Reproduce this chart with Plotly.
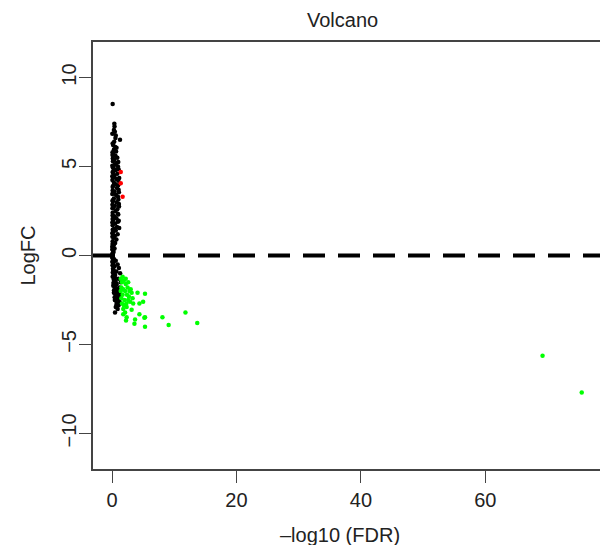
import plotly.graph_objects as go

# ---- data ----
black_fdr = [0.10, 0.37, 0.40, 0.30, 0.45, 1.28, 0.55, 0.35, 0.20, 0.50, 0.30, 0.65, 0.20, 0.55, 0.85,
             0.35, 0.15, 0.70, 0.45, 0.95, 0.25, 0.60, 0.10, 0.85, 0.40, 0.20, 0.70, 1.00, 0.30, 0.55,
             0.15, 0.80, 1.05, 0.40, 0.20, 0.65, 0.95, 0.30, 0.10, 0.75, 1.10, 0.45, 0.20, 0.85, 0.55,
             0.10, 1.00, 0.35, 0.70, 0.20, 0.95, 0.50, 0.10, 0.80, 0.35, 0.60, 0.15, 0.90, 0.45, 0.25,
             0.70, 0.10, 0.50, 0.30, 0.05, 0.40, 0.15, 0.25, 0.05,
             0.05, 0.10, 0.08, 0.12, 0.05, 0.15, 0.06, 0.10, 0.04, 0.12, 0.07, 0.09, 0.05, 0.11, 0.06,
             0.08, 0.05, 0.13, 0.04, 0.10, 0.06, 0.09, 0.05, 0.12, 0.07,
             0.05, 0.30, 0.60, 0.15, 0.90, 0.40, 1.10, 0.20, 0.70, 1.30, 0.50, 0.10, 1.00, 0.35, 1.40,
             0.75, 0.20, 1.20, 0.55, 0.90, 0.30, 1.30, 0.65, 1.00, 0.45, 1.20, 0.80, 1.05, 0.60, 0.90,
             0.48, 0.10, 0.05, 0.20, 0.08, 0.15, 0.25, 0.12, 0.35, 0.18, 0.45, 0.28, 0.55, 0.22, 0.65,
             0.40, 0.75, 0.32, 0.85, 0.50, 0.95, 0.42, 1.05, 0.62, 0.72,
             1.05, 1.15, 0.98, 1.10, 1.02, 1.12, 0.92, 1.08, 1.15, 1.00, 0.60, 0.72]
black_logfc = [8.52, 7.40, 7.25, 7.05, 6.95, 6.50, 6.60, 6.40, 6.20, 6.10, 5.95, 5.85, 5.70, 5.60, 5.50,
               5.40, 5.30, 5.20, 5.10, 5.00, 4.90, 4.80, 4.70, 4.60, 4.50, 4.40, 4.30, 4.20, 4.10, 4.00,
               3.90, 3.80, 3.70, 3.60, 3.50, 3.40, 3.30, 3.20, 3.10, 3.00, 2.90, 2.80, 2.70, 2.60, 2.50,
               2.40, 2.30, 2.20, 2.10, 2.00, 1.90, 1.80, 1.70, 1.60, 1.50, 1.40, 1.30, 1.20, 1.10, 1.00,
               0.90, 0.80, 0.70, 0.60, 0.50, 0.40, 0.30, 0.20, 0.10,
               6.85, 6.30, 5.80, 5.45, 5.05, 4.65, 4.25, 3.85, 3.45, 3.05, 2.65, 2.25, 1.85, 1.45, 1.05,
               0.65, 0.35, 4.95, 4.45, 3.65, 2.85, 2.05, 1.25, 0.45, 5.65,
               -0.10, -0.20, -0.30, -0.40, -0.50, -0.60, -0.70, -0.80, -0.90, -1.00, -1.10, -1.20, -1.30, -1.40, -1.50,
               -1.60, -1.70, -1.80, -1.90, -2.00, -2.10, -2.20, -2.30, -2.40, -2.50, -2.60, -2.70, -2.80, -2.90, -3.00,
               -3.20, -0.15, -0.35, -0.45, -0.55, -0.75, -0.85, -0.95, -1.05, -1.15, -1.25, -1.35, -1.45, -1.55, -1.65,
               -1.75, -1.85, -1.95, -2.05, -2.15, -2.25, -2.35, -2.45, -2.55, -2.75,
               4.85, 4.35, 3.95, 3.55, 3.15, 2.75, 2.35, 1.95, 1.55, 5.25, 6.75, 6.05]

red_fdr = [1.40, 1.40, 1.70]
red_logfc = [4.70, 4.06, 3.30]

green_fdr = [1.4, 1.6, 1.9, 2.2, 1.5, 1.8, 2.5, 2.1, 1.7, 2.4, 2.8, 1.5, 2.0, 2.7, 1.9, 2.3, 1.6, 2.9, 1.4,
             2.2, 1.7, 2.6, 3.0, 1.8, 2.1,
             11.8, 8.1, 13.7, 9.1, 5.3, 5.3, 5.3, 4.1, 5.0, 4.4, 4.4, 3.7, 3.6, 2.35, 2.25, 3.15, 3.3,
             3.4, 2.6, 1.8, 2.35, 3.15, 5.2, 69.2, 75.5]
green_logfc = [-1.3, -1.5, -1.4, -1.6, -1.8, -1.9, -1.8, -2.0, -2.2, -2.2, -2.0, -2.4, -2.5, -2.3, -2.8,
               -2.7, -2.7, -2.6, -2.0, -1.3, -1.2, -1.5, -1.9, -3.0, -3.2,
               -3.2, -3.47, -3.8, -3.9, -3.47, -4.0, -2.15, -2.1, -2.6, -2.7, -3.3, -3.6, -3.84, -3.47,
               -3.65, -2.1, -2.4, -2.7, -2.5, -3.3, -2.9, -3.05, -3.5, -5.63, -7.7]

x_ticks = [0, 20, 40, 60]
y_ticks = [-10, -5, 0, 5, 10]
x_range = [-3.06, 79.56]
y_range = [-12, 12]
cutoff_y = [0, 0]

FONT = "Liberation Sans, Arial, Helvetica, sans-serif"
TXT = "#222222"
msize = 4.5

fig = go.Figure()
fig.add_trace(go.Scatter(x=black_fdr, y=black_logfc, mode="markers",
                         marker=dict(color="black", size=msize, line=dict(width=0))))
fig.add_trace(go.Scatter(x=red_fdr, y=red_logfc, mode="markers",
                         marker=dict(color="#ff0000", size=msize, line=dict(width=0))))
fig.add_trace(go.Scatter(x=green_fdr, y=green_logfc, mode="markers",
                         marker=dict(color="#00ff00", size=msize, line=dict(width=0))))
fig.add_trace(go.Scatter(x=x_range, y=cutoff_y, mode="lines",
                         line=dict(color="black", width=4, dash="22px,13px")))

axis_common = dict(showgrid=False, zeroline=False, showline=True, mirror=True,
                   linecolor="#444444", linewidth=1.5, ticks="outside", ticklen=12,
                   tickwidth=1.2, tickcolor="#444444",
                   tickfont=dict(family=FONT, size=20, color=TXT))

fig.update_xaxes(range=x_range, tickvals=x_ticks, **axis_common)
fig.update_yaxes(range=y_range, tickvals=y_ticks, tickangle=-90, ticklabelstandoff=-5,
                 **axis_common)

# page body has an 8px margin: the figure is sized so the plot box lands where the reference has it
fig.update_layout(
    width=600, height=537,
    margin=dict(l=85, r=1, t=34, b=76, autoexpand=False),
    paper_bgcolor="white", plot_bgcolor="white",
    showlegend=False,
    font=dict(family=FONT, color=TXT),
    annotations=[
        dict(text="Volcano", x=0.486, y=1, xref="paper", yref="paper", yshift=22,
             xanchor="center", yanchor="middle", showarrow=False,
             font=dict(family=FONT, size=20, color=TXT)),
        dict(text="–log10 (FDR)", x=0.481, y=0, xref="paper", yref="paper", yshift=-66,
             xanchor="center", yanchor="middle", showarrow=False,
             font=dict(family=FONT, size=20, color=TXT)),
        dict(text="LogFC", x=0, y=0.5, xref="paper", yref="paper", xshift=-66,
             xanchor="center", yanchor="middle", showarrow=False, textangle=-90,
             font=dict(family=FONT, size=20, color=TXT)),
    ],
)

fig.write_html("out.html")
